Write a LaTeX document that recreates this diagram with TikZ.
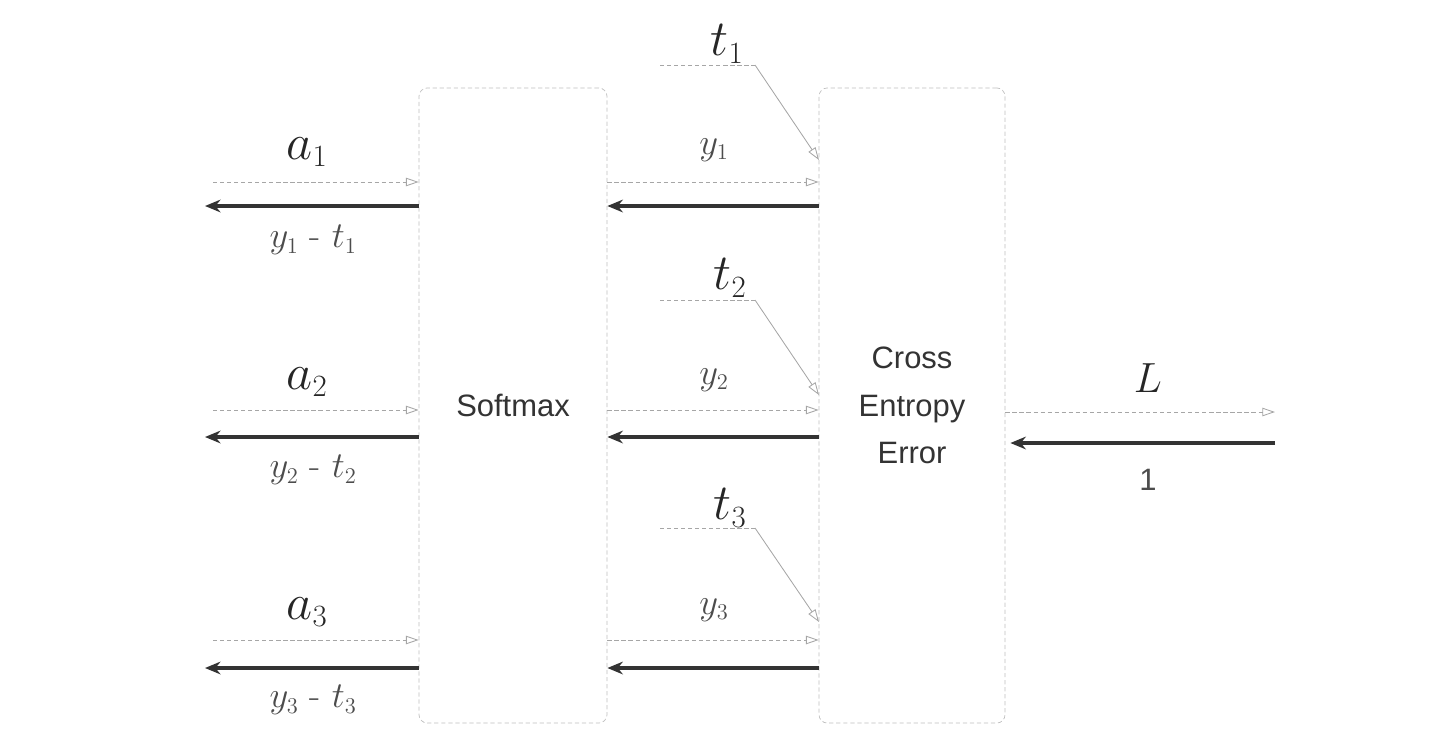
\RequirePackage{fix-cm}
\documentclass[tikz,border=0pt]{standalone}
\usepackage{fontspec}
\setsansfont{Liberation Sans}
\DeclareMathSizes{36}{36}{22}{16}
\DeclareMathSizes{30}{30}{19}{14}
\DeclareMathSizes{26}{26}{16}{12}
\usetikzlibrary{arrows.meta, positioning, calc}

\begin{document}
\begin{tikzpicture}[x=0.025cm, y=-0.025cm]

        % Define styles for each type of node
        \tikzstyle{layer} = [rectangle, rounded corners=6pt, minimum width=4.7cm, minimum height=15.875cm, text centered, draw=black!25, densely dashed, line width=0.5pt, align=center, font=\sffamily\fontsize{22}{34}\selectfont, text=black!80]
        \tikzstyle{bigvar} = [inner sep=0pt, font=\fontsize{36}{36}\selectfont, text=black!85]
        \tikzstyle{smallvar} = [inner sep=0pt, font=\fontsize{26}{26}\selectfont, text=black!70]

        % Define arrow styles
        \tikzstyle{fwd} = [-{Triangle[open, length=9pt, width=6pt]}, densely dashed, draw=black!35, line width=0.6pt]
        \tikzstyle{tarrow} = [-{Triangle[open, length=9pt, width=6pt]}, draw=black!35, line width=0.6pt]
        \tikzstyle{bwd} = [-{Stealth[length=11pt, width=9pt]}, draw=black!80, line width=2.2pt]

        \useasboundingbox (0,0) rectangle (1440,750);

        % Layers
        \node (softmax) [layer] at (513,405.5) {Softmax};
        \node (loss) [layer, minimum width=4.65cm] at (912,405.5) {Cross\\Entropy\\Error};

        % Free ends
        \coordinate (in1) at (213,182);
        \coordinate (in2) at (213,410);
        \coordinate (in3) at (213,640);
        \coordinate (out1) at (205,206);
        \coordinate (out2) at (205,437);
        \coordinate (out3) at (205,668);
        \coordinate (t1a) at (660,65);
        \coordinate (t1b) at (755,65);
        \coordinate (t1c) at (819,160);
        \coordinate (t2a) at (660,300);
        \coordinate (t2b) at (755,300);
        \coordinate (t2c) at (819,395);
        \coordinate (t3a) at (660,528);
        \coordinate (t3b) at (755,528);
        \coordinate (t3c) at (819,622);
        \coordinate (lossout) at (1275,412);
        \coordinate (lossin) at (1275,443);

        % Labels
        \node (a1) [bigvar] at (307,152) {$a_1$};
        \node (a2) [bigvar] at (307,382) {$a_2$};
        \node (a3) [bigvar] at (307,612) {$a_3$};
        \node (d1) [smallvar] at (313,240) {$y_1$ - $t_1$};
        \node (d2) [smallvar] at (313,470) {$y_2$ - $t_2$};
        \node (d3) [smallvar] at (313,700) {$y_3$ - $t_3$};
        \node (y1) [smallvar] at (714,150) {$y_1$};
        \node (y2) [smallvar] at (714,380) {$y_2$};
        \node (y3) [smallvar] at (714,610) {$y_3$};
        \node (t1) [bigvar] at (727,44) {$t_1$};
        \node (t2) [bigvar] at (730,278) {$t_2$};
        \node (t3) [bigvar] at (730,508) {$t_3$};
        \node (L) [bigvar, font=\fontsize{30}{30}\selectfont] at (1148,378) {$L$};
        \node (one) [smallvar, font=\sffamily\fontsize{22}{22}\selectfont] at (1148,480) {1};

        % Forward arrows
        \draw [fwd] (in1) -- (in1 -| softmax.west);
        \draw [fwd] (in2) -- (in2 -| softmax.west);
        \draw [fwd] (in3) -- (in3 -| softmax.west);
        \draw [fwd] (in1 -| softmax.east) -- (in1 -| loss.west);
        \draw [fwd] (in2 -| softmax.east) -- (in2 -| loss.west);
        \draw [fwd] (in3 -| softmax.east) -- (in3 -| loss.west);
        \draw [densely dashed, draw=black!35, line width=0.6pt] (t1a) -- (t1b);
        \draw [densely dashed, draw=black!35, line width=0.6pt] (t2a) -- (t2b);
        \draw [densely dashed, draw=black!35, line width=0.6pt] (t3a) -- (t3b);
        \draw [tarrow] (t1b) -- (t1c);
        \draw [tarrow] (t2b) -- (t2c);
        \draw [tarrow] (t3b) -- (t3c);
        \draw [fwd] (lossout -| loss.east) -- (lossout);

        % Backward arrows
        \draw [bwd] (out1 -| softmax.west) -- (out1);
        \draw [bwd] (out2 -| softmax.west) -- (out2);
        \draw [bwd] (out3 -| softmax.west) -- (out3);
        \draw [bwd] (out1 -| loss.west) -- (out1 -| softmax.east);
        \draw [bwd] (out2 -| loss.west) -- (out2 -| softmax.east);
        \draw [bwd] (out3 -| loss.west) -- (out3 -| softmax.east);
        \draw [bwd] (lossin) -- ($(lossin -| loss.east)+(5,0)$);

\end{tikzpicture}
\end{document}
